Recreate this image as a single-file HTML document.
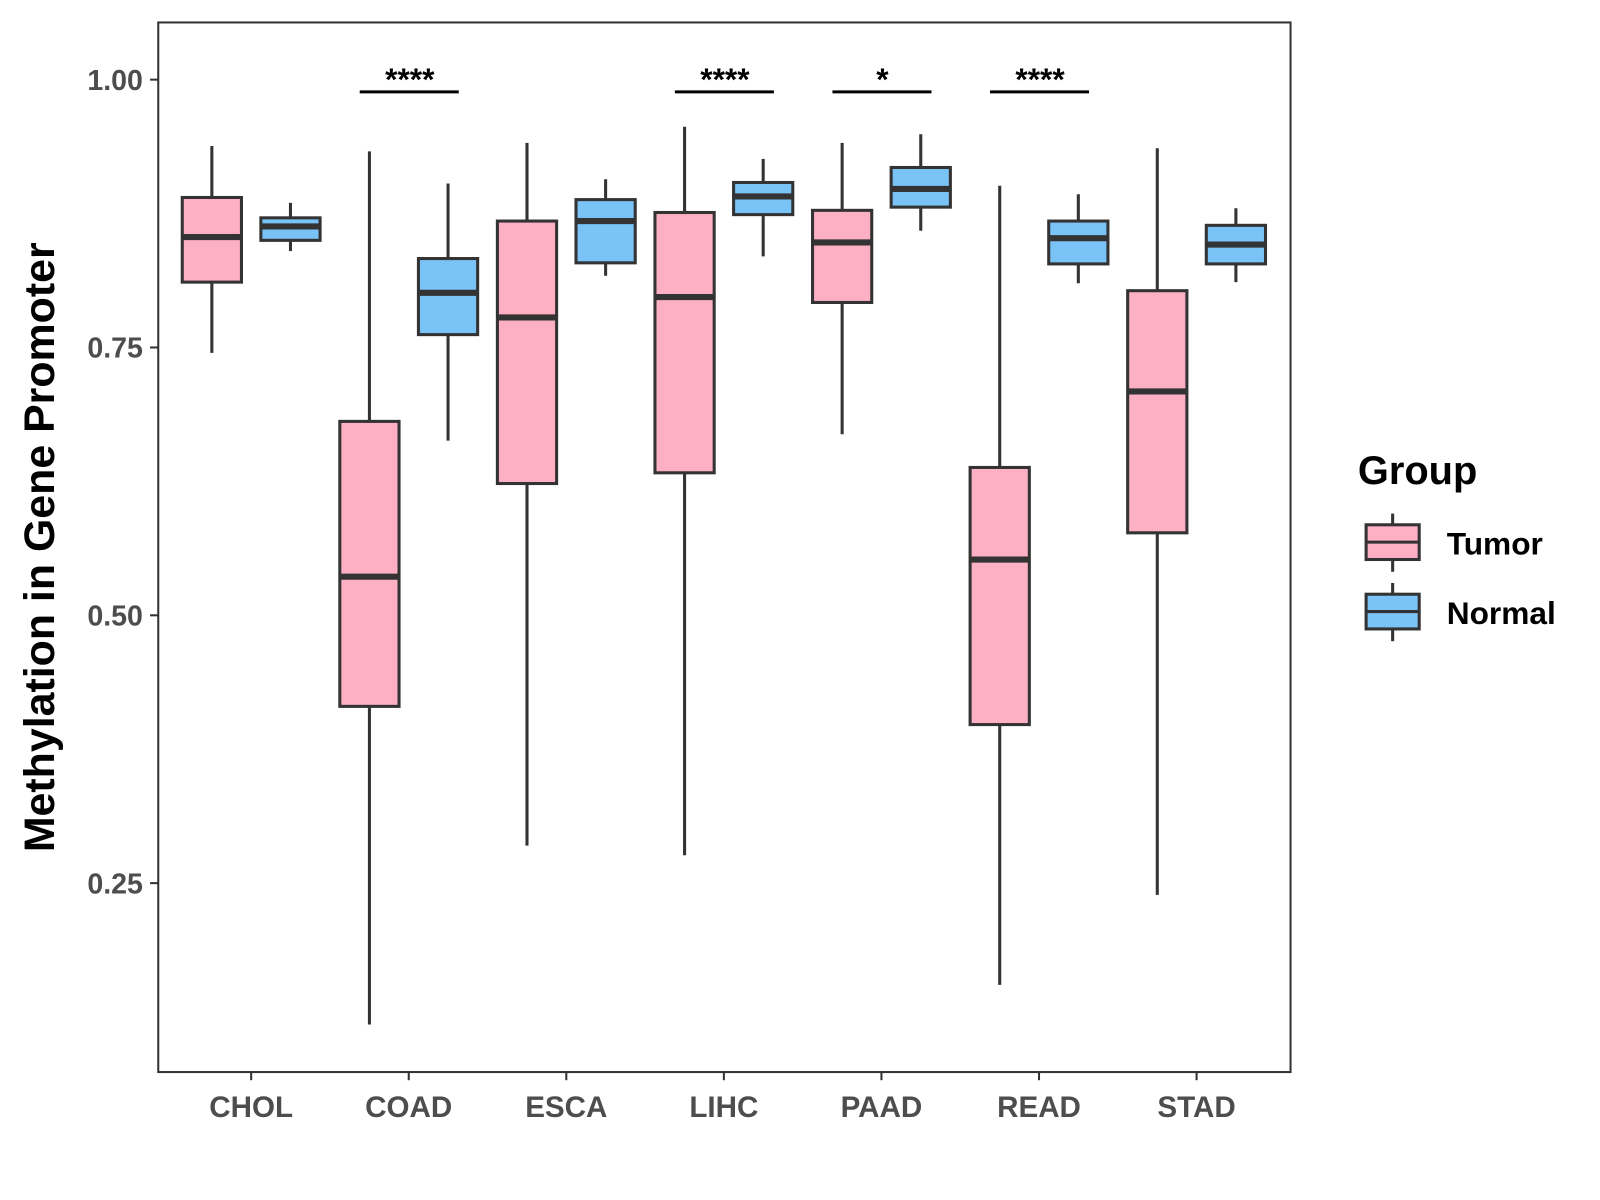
<!DOCTYPE html>
<html><head><meta charset="utf-8"><style>
html,body{margin:0;padding:0;background:#fff;}
svg{display:block;font-family:"Liberation Sans",Arial,sans-serif;}
</style></head><body>
<svg id="chart" width="1600" height="1200" viewBox="0 0 1600 1200" xmlns="http://www.w3.org/2000/svg">
<rect x="0" y="0" width="1600" height="1200" fill="#fff"/>
<g transform="scale(1.021)">
<g id="plot"></g>
<rect x="155" y="22" width="1109" height="1028" fill="none" stroke="#333" stroke-width="2"/>
<text transform="translate(53,536) rotate(-90)" text-anchor="middle" font-size="42" font-weight="bold" fill="#000">Methylation in Gene Promoter</text>
<g>
<text x="1330" y="474" font-size="39" font-weight="bold" fill="#000">Group</text>
<g>
<line x1="1364" y1="503" x2="1364" y2="560" stroke="#333" stroke-width="3"/>
<rect x="1338" y="514" width="52" height="34" fill="#FDB0C3" stroke="#333" stroke-width="3"/>
<line x1="1338" y1="531" x2="1390" y2="531" stroke="#333" stroke-width="3"/>
<text x="1417" y="543" font-size="31" font-weight="bold" fill="#000">Tumor</text>
</g>
<g>
<line x1="1364" y1="571" x2="1364" y2="628" stroke="#333" stroke-width="3"/>
<rect x="1338" y="582" width="52" height="34" fill="#7AC3F7" stroke="#333" stroke-width="3"/>
<line x1="1338" y1="599" x2="1390" y2="599" stroke="#333" stroke-width="3"/>
<text x="1417" y="611" font-size="31" font-weight="bold" fill="#000">Normal</text>
</g>
</g>
</g>
</svg>
<script>
const categories = ["CHOL","COAD","ESCA","LIHC","PAAD","READ","STAD"];
// [min, q1, median, q3, max]
const tumorStats = [
 [0.745,0.811,0.853,0.890,0.938],
 [0.118,0.415,0.536,0.681,0.933],
 [0.285,0.623,0.778,0.868,0.941],
 [0.276,0.633,0.797,0.876,0.956],
 [0.669,0.792,0.848,0.878,0.941],
 [0.155,0.398,0.552,0.638,0.901],
 [0.239,0.577,0.709,0.803,0.936]
];
const normalStats = [
 [0.840,0.850,0.863,0.871,0.885],
 [0.663,0.762,0.801,0.833,0.903],
 [0.817,0.829,0.868,0.888,0.907],
 [0.835,0.874,0.891,0.904,0.926],
 [0.859,0.881,0.898,0.918,0.949],
 [0.810,0.828,0.852,0.868,0.893],
 [0.811,0.828,0.846,0.864,0.880]
];
const yTicks = [0.25,0.50,0.75,1.00];
const yTickLabels = ["0.25","0.50","0.75","1.00"];
const sigCategories = ["COAD","LIHC","PAAD","READ"];
const sigLabels = ["****","****","*","****"];

const NS="http://www.w3.org/2000/svg";
const g=document.getElementById('plot');
function y(v){return 78+(1-v)*1049.3;}
function x(i){return 246+i*154.33;}
function el(t,a){const e=document.createElementNS(NS,t);for(const k in a)e.setAttribute(k,a[k]);g.appendChild(e);return e;}

yTicks.forEach((v,i)=>{
 const t=el('line',{x1:147,x2:155,y1:y(v),y2:y(v),stroke:'#333','stroke-width':2});
 
 
 const l=el('text',{x:140,y:y(v)+10,'text-anchor':'end','font-size':28,'font-weight':'bold',fill:'#4d4d4d'});
 l.textContent=yTickLabels[i];
 
 
});
categories.forEach((c,i)=>{
 const t=el('line',{x1:x(i),x2:x(i),y1:1050,y2:1058,stroke:'#333','stroke-width':2});
 
 
 const l=el('text',{x:x(i),y:1094,'text-anchor':'middle','font-size':29,'font-weight':'bold',fill:'#4d4d4d'});
 l.textContent=c;
 
 
});
function box(cx,s,fill,name){
 const w=29;
 const wl=el('line',{x1:cx,x2:cx,y1:y(s[4]),y2:y(s[0]),stroke:'#333','stroke-width':3});
 
 
 const r=el('rect',{x:cx-w,y:y(s[3]),width:2*w,height:y(s[1])-y(s[3]),fill:fill,stroke:'#333','stroke-width':3});
 
 
 const m=el('line',{x1:cx-w,x2:cx+w,y1:y(s[2]),y2:y(s[2]),stroke:'#333','stroke-width':6});
 
 
}
categories.forEach((c,i)=>{
 box(x(i)-38.5,tumorStats[i],'#FDB0C3','tumor-'+c.toLowerCase());
 box(x(i)+38.5,normalStats[i],'#7AC3F7','normal-'+c.toLowerCase());
});
sigCategories.forEach((c,k)=>{
 const i=categories.indexOf(c);
 const ln=el('line',{x1:x(i)-48,x2:x(i)+49,y1:90,y2:90,stroke:'#000','stroke-width':3});
 
 
 const t=el('text',{x:x(i)+1,y:88,'text-anchor':'middle','font-size':31,'font-weight':'bold',fill:'#000'});
 t.textContent=sigLabels[k];
 
 
});
</script>
</body></html>
